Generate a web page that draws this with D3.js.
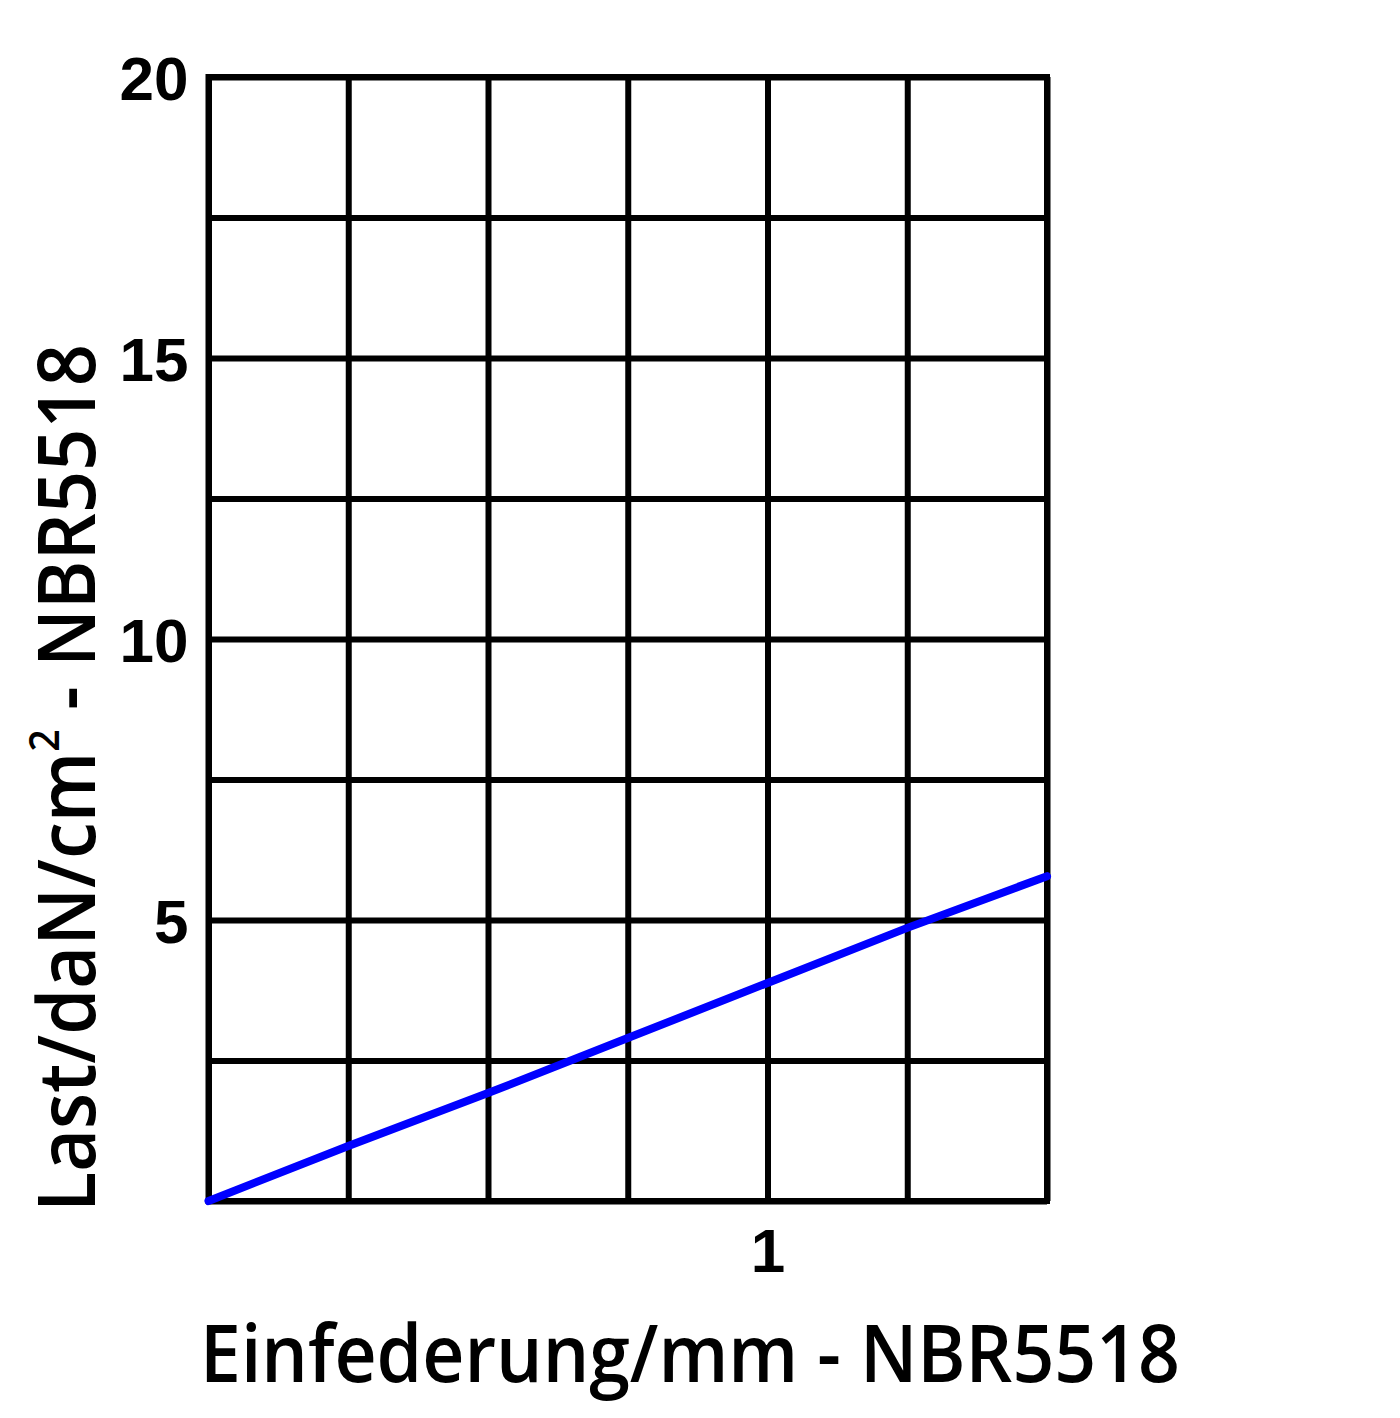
<!DOCTYPE html>
<html><head><meta charset="utf-8">
<script src="https://cdn.jsdelivr.net/npm/d3@7"></script>
<style>body{margin:0;background:#fff;} svg{display:block;}</style>
</head><body>
<script>
// Data
const deflection = [0, 0.25, 0.5, 0.75, 1.0, 1.25, 1.5];
const load = [0, 0.98, 1.92, 2.90, 3.88, 4.86, 5.78];
const xGridTicks = [0, 0.25, 0.5, 0.75, 1, 1.25, 1.5];
const xTickLabels = [1];
const yGridTicks = [0, 2.5, 5, 7.5, 10, 12.5, 15, 17.5, 20];
const yTickLabels = [5, 10, 15, 20];
const xTitle = "Einfederung/mm - NBR5518";
const yTitleParts = ["Last/daN/cm", "2", " - NBR5518"];

const W = 1400, H = 1418;
const m = {left: 208.5, top: 77, right: 1047, bottom: 1201};
const svg = d3.select("body").append("svg").attr("width", W).attr("height", H);
svg.append("rect").attr("width", W).attr("height", H).attr("fill", "#fff");

const x = d3.scaleLinear().domain([0, 1.5]).range([m.left, m.right]);
const y = d3.scaleLinear().domain([0, 20]).range([m.bottom, m.top]);
const ph = m.bottom - m.top, pw = m.right - m.left;
const tickFont = "'Liberation Sans', Arial, sans-serif";

// vertical grid
const gx = svg.append("g").attr("transform", `translate(0,${m.bottom})`)
  .call(d3.axisBottom(x).tickValues(xGridTicks).tickSize(-ph).tickSizeOuter(0)
    .tickFormat(d => xTickLabels.includes(d) ? d3.format("d")(d) : ""));
gx.select(".domain").remove();
gx.selectAll(".tick line").attr("stroke", "#000").attr("stroke-width", 6);
gx.selectAll(".tick text").attr("fill", "#000").attr("dy", 0).attr("y", 71)
  .attr("font-family", tickFont).attr("font-weight", "bold").attr("font-size", 62);

// horizontal grid
const gy = svg.append("g").attr("transform", `translate(${m.left},0)`)
  .call(d3.axisLeft(y).tickValues(yGridTicks).tickSize(-pw).tickSizeOuter(0)
    .tickFormat(d => yTickLabels.includes(d) ? d3.format("d")(d) : ""));
gy.select(".domain").remove();
gy.selectAll(".tick line").attr("stroke", "#000").attr("stroke-width", 6);
gy.selectAll(".tick text").attr("fill", "#000").attr("x", -20).attr("dy", "0.36em")
  .attr("font-family", tickFont).attr("font-weight", "bold").attr("font-size", 62);

// frame
svg.append("rect").attr("x", m.left).attr("y", m.top).attr("width", pw).attr("height", ph)
  .attr("fill", "none").attr("stroke", "#000").attr("stroke-width", 6);

// series line
const line = d3.line().x((d, i) => x(deflection[i])).y(d => y(d));
svg.append("path").datum(load).attr("d", line).attr("fill", "none")
  .attr("stroke", "#0000ff").attr("stroke-width", 8).attr("stroke-linecap", "round");

// axis titles
svg.append("text").attr("x", 690).attr("y", 1382).attr("text-anchor", "middle")
  .attr("font-family", "'Open Sans', 'Noto Sans', sans-serif").attr("font-size", 79).attr("font-weight", 600)
  .attr("textLength", 980).attr("lengthAdjust", "spacingAndGlyphs")
  .attr("fill", "#000").text(xTitle);

const yt = svg.append("text").attr("transform", "translate(95,778) rotate(-90)")
  .attr("text-anchor", "middle")
  .attr("font-family", "'Open Sans', 'Noto Sans', sans-serif").attr("font-size", 79).attr("font-weight", 600)
  .attr("textLength", 868).attr("lengthAdjust", "spacingAndGlyphs")
  .attr("fill", "#000");
yt.append("tspan").text(yTitleParts[0]);
yt.append("tspan").attr("font-size", 42).attr("dy", -36).text(yTitleParts[1]);
yt.append("tspan").attr("dy", 36).text(yTitleParts[2]);
</script>
</body></html>
